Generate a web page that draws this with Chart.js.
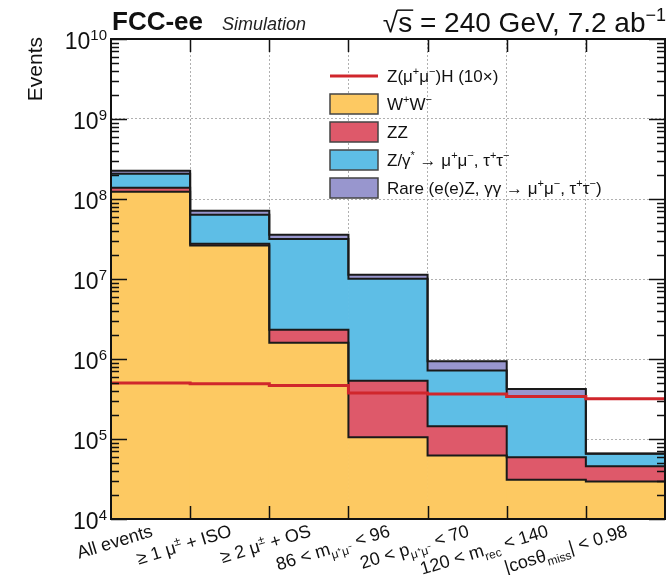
<!DOCTYPE html>
<html>
<head>
<meta charset="utf-8">
<script src="https://cdn.jsdelivr.net/npm/chart.js@4.4.0/dist/chart.umd.min.js"></script>
<style>
html,body{margin:0;padding:0;background:#fff;}
canvas{display:block;}
</style>
</head>
<body>
<canvas id="c" width="669" height="575"></canvas>
<script>
// ---------------- DATA ----------------
const categories = ['All events', '≥ 1 μ± + ISO', '≥ 2 μ± + OS', '86 < mμ+μ- < 96', '20 < pμ+μ- < 70', '120 < mrec < 140', '|cosθmiss| < 0.98'];
// rich-text version of the category tick labels: [text, level] (0 normal, 1 superscript, -1 subscript)
const categoryTickLabels = [
  [['All events', 0]],
  [['≥ 1 μ', 0], ['±', 1], [' + ISO', 0]],
  [['≥ 2 μ', 0], ['±', 1], [' + OS', 0]],
  [['86 < m', 0], ['μ⁺μ⁻', -1], [' < 96', 0]],
  [['20 < p', 0], ['μ⁺μ⁻', -1], [' < 70', 0]],
  [['120 < m', 0], ['rec', -1], [' < 140', 0]],
  [['|cosθ', 0], ['miss', -1], ['| < 0.98', 0]]
];
const wwEvents     = [1.23e8, 2.63e7, 1.60e6, 1.05e5, 6.2e4, 3.1e4, 2.95e4];
const zzEvents     = [1.5e7, 1.2e6, 7.2e5, 4.3e5, 8.2e4, 2.8e4, 1.6e4];
const zGammaEvents = [6.9e7, 3.61e7, 2.93e7, 9.56e6, 5.76e5, 2.76e5, 2.0e4];
const rareEvents   = [1.9e7, 7.8e6, 4.2e6, 1.2e6, 2.14e5, 8.7e4, 5e2];
const zhSignal10x  = [5.0e5, 4.9e5, 4.68e5, 3.76e5, 3.65e5, 3.41e5, 3.19e5];
const yMin = 1e4, yMax = 1e10;
const yTickValues = [1e4, 1e5, 1e6, 1e7, 1e8, 1e9, 1e10];
const yTickLabels = [['10', '4'], ['10', '5'], ['10', '6'], ['10', '7'], ['10', '8'], ['10', '9'], ['10', '10']];
const legendLabels = [
  [['Z(μ', 0], ['+', 1], ['μ', 0], ['−', 1], [')H (10×)', 0]],
  [['W', 0], ['+', 1], ['W', 0], ['−', 1]],
  [['ZZ', 0]],
  [['Z/γ', 0], ['*', 1], [' → μ', 0], ['+', 1], ['μ', 0], ['−', 1], [', τ', 0], ['+', 1], ['τ', 0], ['−', 1]],
  [['Rare (e(e)Z, γγ → μ', 0], ['+', 1], ['μ', 0], ['−', 1], [', τ', 0], ['+', 1], ['τ', 0], ['−', 1], [')', 0]]
];

// ---------------- STYLE ----------------
const FONT = '"Liberation Sans", Arial, Helvetica, sans-serif';
const colWW = '#FDC962', colZZ = '#DE596A', colZG = '#5EBEE6', colRare = '#9896CE', colZH = '#D0262C';
const outline = '#1a1a1a';

// ---------------- DERIVED ----------------
const add = (a, b) => a.map((v, i) => v + b[i]);
const cum1 = wwEvents.slice();
const cum2 = add(cum1, zzEvents);
const cum3 = add(cum2, zGammaEvents);
const cum4 = add(cum3, rareEvents);
const base = wwEvents.map(() => yMin);
const floating = (lo, hi) => hi.map((v, i) => [lo[i], v]);
const stepPoints = arr => arr.map((v, i) => ({x: i, y: v})).concat([{x: arr.length, y: arr[arr.length - 1]}]);

function barDS(label, lo, hi, color) {
  return {type: 'bar', label, data: floating(lo, hi), backgroundColor: color, borderWidth: 0,
          grouped: false, barPercentage: 1, categoryPercentage: 1, xAxisID: 'x', yAxisID: 'y', order: 10};
}
function stepDS(label, arr, color, width, order) {
  return {type: 'line', label, data: stepPoints(arr), borderColor: color, borderWidth: width,
          stepped: true, pointRadius: 0, fill: false, tension: 0, xAxisID: 'x2', yAxisID: 'y',
          order, stack: label, borderCapStyle: 'butt', borderJoinStyle: 'miter'};
}

// ---------------- DRAW HELPERS ----------------
function drawRuns(ctx, runs, x, y, size, align) {
  const small = Math.round(size * 0.66);
  const fontFor = l => (l === 0 ? size : small) + 'px ' + FONT;
  let total = 0;
  const widths = runs.map(([t, l]) => { ctx.font = fontFor(l); const w = ctx.measureText(t).width; total += w; return w; });
  let cx = align === 'right' ? x - total : (align === 'center' ? x - total / 2 : x);
  ctx.textAlign = 'left';
  ctx.textBaseline = 'alphabetic';
  runs.forEach(([t, l], i) => {
    ctx.font = fontFor(l);
    const dy = l === 1 ? -size * 0.40 : (l === -1 ? size * 0.28 : 0);
    ctx.fillText(t, cx, y + dy);
    cx += widths[i];
  });
  return total;
}

const decor = {
  id: 'decor',
  afterDraw(chart) {
    const ctx = chart.ctx;
    const a = chart.chartArea;
    const xs = chart.scales.x2, ys = chart.scales.y;
    ctx.save();
    ctx.fillStyle = '#111';
    ctx.strokeStyle = '#111';

    // inward ticks: bottom/top at bin edges
    ctx.lineWidth = 1.5;
    for (let i = 1; i < categories.length; i++) {
      const px = Math.round(xs.getPixelForValue(i)) + 0.5;
      ctx.beginPath();
      ctx.moveTo(px, a.bottom); ctx.lineTo(px, a.bottom - 13);
      ctx.moveTo(px, a.top); ctx.lineTo(px, a.top + 13);
      ctx.stroke();
    }
    // inward ticks: left/right log ticks
    yTickValues.forEach((dec) => {
      for (let m = 1; m <= 9; m++) {
        const v = dec * m;
        if (v > yMax) break;
        const py = Math.round(ys.getPixelForValue(v)) + 0.5;
        const len = m === 1 ? 16 : 8;
        ctx.beginPath();
        ctx.moveTo(a.left, py); ctx.lineTo(a.left + len, py);
        ctx.moveTo(a.right, py); ctx.lineTo(a.right - len, py);
        ctx.stroke();
      }
    });
    // frame
    ctx.lineWidth = 2;
    ctx.strokeRect(a.left, a.top, a.right - a.left, a.bottom - a.top);

    // y tick labels
    yTickValues.forEach((v, k) => {
      const py = ys.getPixelForValue(v);
      const [b, e] = yTickLabels[k];
      ctx.font = '15px ' + FONT;
      const we = ctx.measureText(e).width;
      ctx.font = '23px ' + FONT;
      ctx.textAlign = 'right'; ctx.textBaseline = 'alphabetic';
      ctx.fillText(b, 107 - we, py + 10);
      ctx.font = '15px ' + FONT;
      ctx.textAlign = 'left';
      ctx.fillText(e, 107 - we, py + 1);
    });

    // x tick labels (rotated)
    const cs = chart.scales.x;
    categoryTickLabels.forEach((runs, i) => {
      const px = cs.getPixelForValue(i);
      ctx.save();
      ctx.translate(px + 3, a.bottom + 17);
      ctx.rotate(-17 * Math.PI / 180);
      drawRuns(ctx, runs, 0, 0, 18, 'right');
      ctx.restore();
    });

    // y axis title
    ctx.save();
    ctx.translate(42, 37);
    ctx.rotate(-Math.PI / 2);
    ctx.font = '21px ' + FONT;
    ctx.textAlign = 'right'; ctx.textBaseline = 'alphabetic';
    ctx.fillText('Events', 0, 0);
    ctx.restore();

    // header texts
    ctx.textAlign = 'left'; ctx.textBaseline = 'alphabetic';
    ctx.font = 'bold 26px ' + FONT;
    ctx.fillText('FCC-ee', 112, 30);
    ctx.font = 'italic 18px ' + FONT;
    ctx.fillStyle = '#222';
    ctx.fillText('Simulation', 222, 30);
    ctx.fillStyle = '#111';
    const hdr = [['√s = 240 GeV, 7.2 ab', 0], ['−1', 1]];
    const size = 28;
    const total = (function () {
      let t = 0; ctx.font = size + 'px ' + FONT; t += ctx.measureText(hdr[0][0]).width;
      ctx.font = Math.round(size * 0.66) + 'px ' + FONT; t += ctx.measureText(hdr[1][0]).width; return t;
    })();
    const x0 = 666 - total;
    drawRuns(ctx, hdr, 666, 32, size, 'right');
    ctx.font = size + 'px ' + FONT;
    const wR = ctx.measureText('√').width, wRs = ctx.measureText('√s').width;
    ctx.lineWidth = 1.5;
    ctx.beginPath();
    ctx.moveTo(x0 + wR - 1, 32 - size * 0.78);
    ctx.lineTo(x0 + wRs + 1, 32 - size * 0.78);
    ctx.stroke();

    // legend
    const lx = 330, lw = 48, rowY = [76, 104, 132, 160, 188];
    const boxCols = [colWW, colZZ, colZG, colRare];
    ctx.strokeStyle = colZH; ctx.lineWidth = 3;
    ctx.beginPath(); ctx.moveTo(lx, rowY[0]); ctx.lineTo(lx + lw, rowY[0]); ctx.stroke();
    boxCols.forEach((c, k) => {
      const cy = rowY[k + 1];
      ctx.fillStyle = c;
      ctx.fillRect(lx, cy - 10, lw, 20);
      ctx.strokeStyle = '#444'; ctx.lineWidth = 1.5;
      ctx.strokeRect(lx, cy - 10, lw, 20);
    });
    ctx.fillStyle = '#111';
    legendLabels.forEach((runs, k) => drawRuns(ctx, runs, 387, rowY[k] + 6, 17, 'left'));
    ctx.restore();
  }
};

const isDecade = v => Math.abs(Math.log10(v) - Math.round(Math.log10(v))) < 1e-6;

new Chart(document.getElementById('c'), {
  type: 'bar',
  data: {
    labels: categories,
    datasets: [
      barDS('W+W-', base, cum1, colWW),
      barDS('ZZ', cum1, cum2, colZZ),
      barDS('Z/γ* → μμ, ττ', cum2, cum3, colZG),
      barDS('Rare', cum3, cum4, colRare),
      stepDS('W+W- outline', cum1, outline, 2, 2),
      stepDS('ZZ outline', cum2, outline, 2, 2),
      stepDS('Z/γ outline', cum3, outline, 2, 2),
      stepDS('Rare outline', cum4, outline, 2, 2),
      stepDS('Z(μμ)H (10×)', zhSignal10x, colZH, 3, 0)
    ]
  },
  options: {
    responsive: false,
    animation: false,
    layout: {padding: {left: 111, top: 39, right: 4, bottom: 56}},
    plugins: {legend: {display: false}, tooltip: {enabled: false}, title: {display: false}},
    scales: {
      x: {
        type: 'category', offset: true,
        grid: {offset: true, color: '#b0b0b0', lineWidth: 1, drawTicks: false},
        border: {display: false, dash: [2, 2]},
        ticks: {display: false}
      },
      x2: {type: 'linear', display: false, offset: false, grid: {offset: false}, min: 0, max: categories.length},
      y: {
        type: 'logarithmic', min: yMin, max: yMax,
        grid: {color: c => (c.tick && isDecade(c.tick.value)) ? '#b0b0b0' : 'rgba(0,0,0,0)', lineWidth: 1, drawTicks: false},
        border: {display: false, dash: [2, 2]},
        ticks: {display: false}
      }
    }
  },
  plugins: [decor]
});
</script>
</body>
</html>
